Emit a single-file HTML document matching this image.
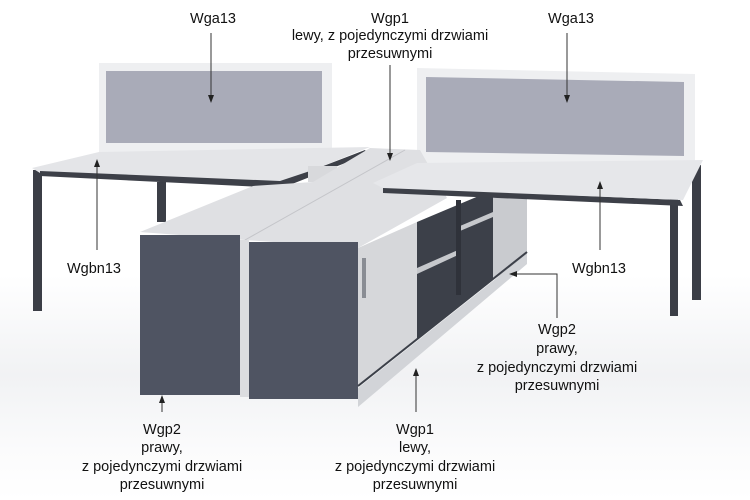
<!DOCTYPE html>
<html><head><meta charset="utf-8"><style>
html,body{margin:0;padding:0;background:#fff;}
svg{display:block}
text{font-family:"Liberation Sans",Arial,sans-serif;font-size:14.5px;fill:#111;text-anchor:middle}
</style></head><body>
<svg width="750" height="500" viewBox="0 0 750 500" xmlns="http://www.w3.org/2000/svg">
<defs>
<marker id="a" markerWidth="8" markerHeight="8" refX="4" refY="4" orient="auto" markerUnits="userSpaceOnUse"><path d="M0,1 L8,4 L0,7 z" fill="#222"/></marker>
<linearGradient id="bg" x1="0" y1="0" x2="0" y2="1"><stop offset="0.55" stop-color="#fff"/><stop offset="0.75" stop-color="#f1f2f4"/><stop offset="0.9" stop-color="#fbfbfc"/><stop offset="1" stop-color="#fff"/></linearGradient>
</defs>
<rect width="750" height="500" fill="url(#bg)"/>
<rect x="33" y="170" width="9" height="141" fill="#3b3e46"/>
<rect x="157" y="182" width="9" height="40" fill="#3b3e46"/>
<rect x="692" y="165" width="9" height="135" fill="#3b3e46"/>
<rect x="670" y="198" width="8" height="118" fill="#3b3e46"/>
<rect x="99" y="63" width="233" height="90" fill="#eeeff1"/>
<rect x="106" y="71" width="216" height="72" fill="#a9abb8"/>
<polygon points="417,68 695,74 695,168 417,165" fill="#eeeff1"/>
<polygon points="426,77 684,82 684,156 426,152" fill="#a9abb8"/>
<polygon points="32,168 99,152 370,147 313,170 280,187 40,173" fill="#e4e5e8"/>
<polygon points="40,171 280,181 313,170 365,150 368,154 282,188 40,176" fill="#3d4048"/>
<rect x="308" y="166" width="29" height="16" fill="#d8d9dc"/>
<polygon points="490,198 527,198 527,258 490,282" fill="#c9cbcf"/>
<polygon points="417,222 493,190 493,280 417,339" fill="#3c4049"/>
<polygon points="417,268 458,250 458,255 417,274" fill="#c6c8cc"/>
<polygon points="460,226 493,212 493,217 460,231" fill="#c6c8cc"/>
<rect x="456" y="200" width="5" height="95" fill="#2f323a"/>
<polygon points="140,232 245,240 358,248 447,198 420,150 370,148 313,182 253,186" fill="#dfe0e3"/>
<line x1="245" y1="240" x2="405" y2="150" stroke="#c4c5c9" stroke-width="1"/>
<rect x="140" y="235" width="100" height="160" fill="#4f5462"/>
<rect x="240" y="240" width="9" height="157" fill="#dcdde0"/>
<rect x="249" y="242" width="109" height="157" fill="#4f5462"/>
<polygon points="358,248 417,222 417,340 358,387" fill="#d6d7da"/>
<rect x="362" y="258" width="4" height="40" fill="#8a8d94"/>
<line x1="358" y1="386" x2="527" y2="252" stroke="#3c4049" stroke-width="2"/>
<polygon points="358,388 527,254 527,264 358,407" fill="#d2d4d8"/>
<polygon points="383,187 680,200 683,206 383,193" fill="#3d4048"/>
<polygon points="373,183 417,163 703,160 683,200 383,188" fill="#e6e7ea"/>
<g stroke="#333" stroke-width="1" fill="none">
<line x1="211" y1="33" x2="211" y2="99" marker-end="url(#a)"/>
<line x1="390" y1="65" x2="390" y2="157" marker-end="url(#a)"/>
<line x1="567" y1="33" x2="567" y2="99" marker-end="url(#a)"/>
<line x1="97" y1="250" x2="97" y2="163" marker-end="url(#a)"/>
<line x1="600" y1="250" x2="600" y2="185" marker-end="url(#a)"/>
<polyline points="557,318 557,274 513,274" marker-end="url(#a)"/>
<line x1="162" y1="412" x2="162" y2="399" marker-end="url(#a)"/>
<line x1="416" y1="412" x2="416" y2="372" marker-end="url(#a)"/>
</g>
<text x="213" y="23">Wga13</text>
<text x="390" y="23">Wgp1</text>
<text x="390" y="40">lewy, z pojedynczymi drzwiami</text>
<text x="390" y="58">przesuwnymi</text>
<text x="571" y="23">Wga13</text>
<text x="94" y="273">Wgbn13</text>
<text x="599" y="273">Wgbn13</text>
<text x="557" y="334">Wgp2</text>
<text x="557" y="353">prawy,</text>
<text x="557" y="372">z pojedynczymi drzwiami</text>
<text x="557" y="390">przesuwnymi</text>
<text x="162" y="434">Wgp2</text>
<text x="162" y="452">prawy,</text>
<text x="162" y="471">z pojedynczymi drzwiami</text>
<text x="162" y="489">przesuwnymi</text>
<text x="415" y="434">Wgp1</text>
<text x="415" y="452">lewy,</text>
<text x="415" y="471">z pojedynczymi drzwiami</text>
<text x="415" y="489">przesuwnymi</text>
</svg>
</body></html>
